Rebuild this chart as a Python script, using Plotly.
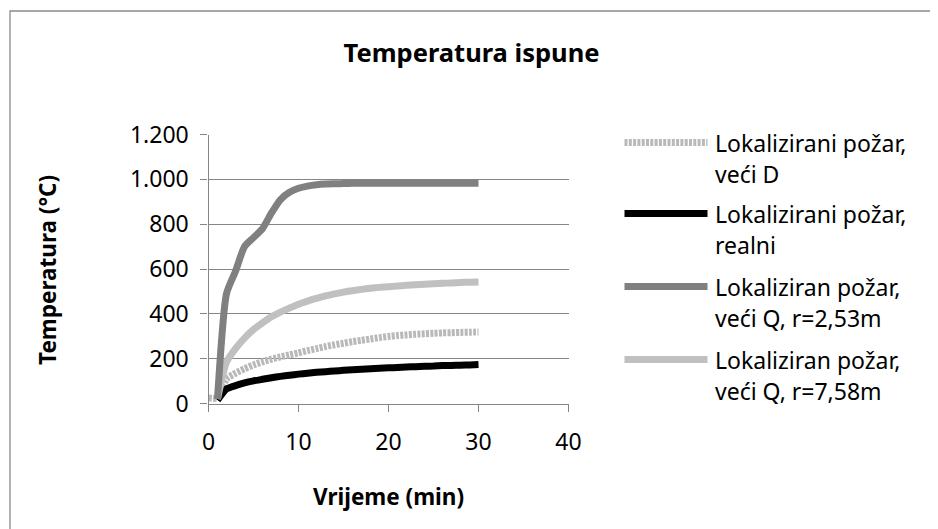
import plotly.graph_objects as go

W, H = 938, 529
OFF = 6.5  # page body margin offset

minutes = list(range(1, 31))
minutes_d = [0] + minutes

veci_d = [25, 25, 110, 135, 155, 172, 186, 198, 208, 217, 226, 236, 245, 254, 262, 269,
          276, 282, 288, 294, 299, 303, 306, 309, 311, 313, 315, 316, 317, 318, 319]
realni = [15, 65, 80, 92, 101, 108, 115, 121, 126, 131, 135, 139, 142, 145, 148, 151,
          153, 155, 157, 159, 161, 163, 164, 166, 167, 169, 170, 171, 172, 174]
r253 = [20, 490, 590, 700, 740, 780, 850, 910, 942, 960, 970, 976, 979, 980, 981,
        982, 982, 982, 982, 982, 982, 982, 982, 982, 982, 982, 982, 982, 982, 982]
r758 = [20, 185, 245, 292, 330, 360, 387, 408, 426, 443, 457, 469, 480, 489, 497, 503,
        509, 514, 518, 521, 524, 527, 530, 532, 534, 536, 538, 540, 541, 542]

names = ["Lokalizirani požar,<br>veći D",
         "Lokalizirani požar,<br>realni",
         "Lokaliziran požar,<br>veći Q, r=2,53m",
         "Lokaliziran požar,<br>veći Q, r=7,58m"]
colors = ["#b9b9b9", "#000000", "#808080", "#c0c0c0"]
dashes = ["3px,1.3px", "solid", "solid", "solid"]
xs = [minutes_d, minutes, minutes, minutes]
ys = [veci_d, realni, r253, r758]

title = "Temperatura ispune"
x_title = "Vrijeme (min)"
y_title = "Temperatura (°C)"

FONT = "Noto Sans"

def px(x):
    return (x - OFF) / W

def py(y):
    return 1 - (y - OFF) / H

fig = go.Figure()
for i in [0, 1, 3, 2]:
    fig.add_trace(go.Scatter(
        x=xs[i], y=ys[i], mode="lines", name=names[i], showlegend=False,
        line=dict(color=colors[i], width=7, dash=dashes[i], shape="spline", smoothing=0.6),
    ))

shapes = []
annotations = []
shapes.append(dict(type="rect", xref="paper", yref="paper",
                   x0=px(8.5), x1=px(W + 20), y0=py(H + 20), y1=py(9.5),
                   line=dict(color="#8a8a8a", width=1.3), fillcolor="rgba(0,0,0,0)", layer="below"))

leg_y = [141, 212, 285, 358]
for i in range(4):
    shapes.append(dict(type="line", xref="paper", yref="paper",
                       x0=px(623), x1=px(706), y0=py(leg_y[i]), y1=py(leg_y[i]),
                       line=dict(color=colors[i], width=7, dash=dashes[i])))
    for j, part in enumerate(names[i].split("<br>")):
        annotations.append(dict(text=part, xref="paper", yref="paper",
                                x=px(711), y=py(leg_y[i] + j * 31.5),
                                xanchor="left", yanchor="middle", showarrow=False,
                                font=dict(family=FONT, size=23, color="#000")))

annotations.append(dict(text=f"<b>{x_title}</b>", xref="paper", yref="paper",
                        x=px(387), y=py(495), xanchor="center", yanchor="middle",
                        showarrow=False, font=dict(family=FONT, size=22.5, color="#000")))
annotations.append(dict(text=f"<b>{y_title}</b>", xref="paper", yref="paper",
                        x=px(46), y=py(269), xanchor="center", yanchor="middle",
                        textangle=-90, showarrow=False,
                        font=dict(family=FONT, size=22.5, color="#000")))

fig.update_layout(
    width=W, height=H,
    margin=dict(l=0, r=0, t=0, b=0, autoexpand=False),
    paper_bgcolor="white", plot_bgcolor="white",
    separators=",.",
    title=dict(text=f"<b>{title}</b>", x=px(470), y=py(52), xanchor="center", yanchor="middle",
               xref="paper", yref="paper", automargin=False,
               font=dict(family=FONT, size=25.5, color="#000")),
    font=dict(family=FONT, size=20, color="#000"),
    xaxis=dict(domain=[px(207), px(567)], range=[0, 40], dtick=10, tick0=0, automargin=False,
               showgrid=False, zeroline=False, showline=True, linecolor="#868686", linewidth=1.3,
               ticks="outside", ticklen=7, tickcolor="#868686", tickwidth=1.3,
               ticklabelstandoff=11, tickfont=dict(family=FONT, size=23, color="#000")),
    yaxis=dict(domain=[py(402), py(133)], range=[0, 1200], dtick=200, tick0=0, automargin=False,
               tickformat=",d",
               showgrid=True, gridcolor="#868686", gridwidth=1.3, zeroline=False,
               showline=True, linecolor="#868686", linewidth=1.3,
               ticks="outside", ticklen=7, tickcolor="#868686", tickwidth=1.3,
               ticklabelstandoff=7, tickfont=dict(family=FONT, size=23, color="#000")),
    shapes=shapes,
    annotations=annotations,
)

fig.write_html("out.html")
